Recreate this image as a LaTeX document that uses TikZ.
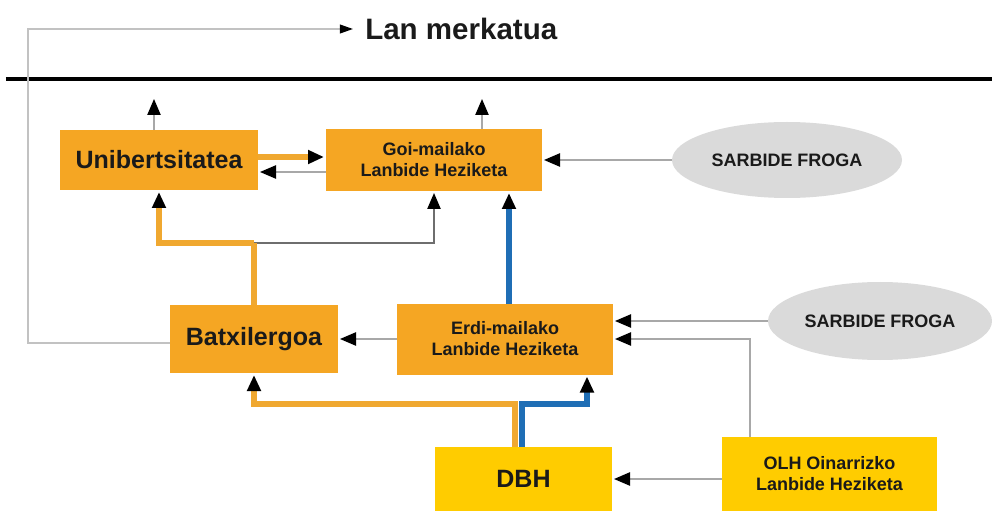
\documentclass[tikz,border=0pt]{standalone}
\usepackage{fontspec}
\setmainfont{Liberation Sans}
\usetikzlibrary{arrows.meta, positioning, shapes.geometric}

\begin{document}
\begin{tikzpicture}[
  % ---- styles ----
  stage/.style 2 args={%
    fill=#1, minimum width=#2, inner sep=0pt, outer sep=0pt,
    align=center, text=Ctxt,
  },
  bigtxt/.style={font=\bfseries\fontsize{17.8}{20}\selectfont},
  smalltxt/.style={font=\bfseries\fontsize{12.8}{15}\selectfont},
  froga/.style={ellipse, fill=Cg, inner sep=0pt, align=center, text=Ctxt, smalltxt},
  thinarrow/.style={draw=Cl, line width=1.2pt, shorten >=0.05cm,
    -{Triangle[length=0.4cm, width=0.33cm, color=black]}},
  darkarrow/.style={thinarrow, draw=Cd},
  orangeline/.style={draw=Col, line width=3.8pt},
  orangearrow/.style={orangeline, shorten >=0.05cm,
    -{Triangle[length=0.4cm, width=0.33cm, color=black]}},
  bluearrow/.style={draw=Cb, line width=3.8pt, shorten >=0.05cm,
    -{Triangle[length=0.4cm, width=0.33cm, color=black]}},
]

% ---- colour palette ----
\definecolor{Co}{HTML}{F5A623}    % orange boxes
\definecolor{Col}{HTML}{F0A830}   % orange paths
\definecolor{Cy}{HTML}{FFCC00}    % yellow boxes
\definecolor{Cg}{HTML}{DADADA}    % ellipses
\definecolor{Cb}{HTML}{1F6EB5}    % blue paths
\definecolor{Cl}{HTML}{A8A8A8}    % thin grey paths
\definecolor{Cd}{HTML}{6E6E6E}    % dark grey path
\definecolor{Ctxt}{HTML}{1A1A1A}  % text

\useasboundingbox (0,0) rectangle (24.8,-12.825);

% =========================================================
% Lan merkatua  +  separator
% =========================================================
\node[anchor=west, inner xsep=0.25cm, inner ysep=0pt, text=Ctxt,
      font=\bfseries\fontsize{21}{24}\selectfont] (lan) at (8.875,-0.725) {Lan merkatua};
\draw[line width=2.8pt] (0.15,-1.975) -- (24.8,-1.975);

% =========================================================
% upper row
% =========================================================
\node[stage={Co}{4.95cm}, minimum height=1.5cm, bigtxt] (unib) at (3.975,-4.0) {Unibertsitatea};
\node[stage={Co}{5.4cm}, minimum height=1.55cm, smalltxt, right=1.7cm of unib] (goi)
    {Goi-mailako\\Lanbide Heziketa};
\node[froga, minimum width=5.75cm, minimum height=1.9cm] (frogaA) at (19.675,-4.0) {SARBIDE FROGA};

% =========================================================
% middle row
% =========================================================
\node[stage={Co}{4.2cm}, minimum height=1.7cm, bigtxt] (batx) at (6.35,-8.475) {Batxilergoa};
\node[stage={Co}{5.4cm}, minimum height=1.775cm, smalltxt, right=1.475cm of batx] (erdi)
    {Erdi-mailako\\Lanbide Heziketa};
\node[froga, minimum width=5.6cm, minimum height=1.95cm] (frogaB) at (22.0,-8.025) {SARBIDE FROGA};

% =========================================================
% lower row
% =========================================================
\node[stage={Cy}{4.425cm}, minimum height=1.6cm, bigtxt] (dbh) at (13.0875,-11.975) {DBH};
\node[stage={Cy}{5.375cm}, minimum height=1.85cm, smalltxt] (olh) at (20.7375,-11.85)
    {OLH Oinarrizko\\Lanbide Heziketa};

% ---- free ends and junctions ----
\coordinate (uniOut) at (3.85,-2.425);
\coordinate (goiOut) at (12.05,-2.425);
\coordinate (corner) at (0.7,-0.725);
\coordinate (split)  at ([yshift=1.55cm]batx.north);
\coordinate (dsplit) at ([yshift=1.075cm]dbh.north);

% =========================================================
% connectors
% =========================================================
\draw[thinarrow] (unib.north -| uniOut) -- (uniOut);
\draw[thinarrow] (goi.north -| goiOut) -- (goiOut);

\draw[orangearrow] ([yshift=0.75mm]unib.east) -- ([yshift=0.75mm]unib.east -| goi.west);
\draw[thinarrow] ([yshift=-3mm]goi.west) -- ([yshift=-3mm]goi.west -| unib.east);

\draw[thinarrow] (frogaA.west) -- (frogaA.west -| goi.east);
\draw[thinarrow] (frogaB.west) -- (frogaB.west -| erdi.east);
\draw[thinarrow] ([xshift=-1.99cm]olh.north) |- (erdi.east);
\draw[thinarrow] (olh.west |- dbh.east) -- (dbh.east);

% Batxilergoa upwards
\draw[darkarrow] (split) -| (goi.south);
\draw[orangeline] (batx.north) -- (split);
\draw[orangearrow] (split) -| (unib.south);

% Erdi-mailako upwards and leftwards
\draw[bluearrow] ([xshift=1mm]erdi.north) -- ([xshift=1mm]erdi.north |- goi.south);
\draw[thinarrow] (erdi.west) -- (batx.east);

% Batxilergoa to the labour market
\draw[thinarrow, draw=Cl!70, -{Triangle[length=0.33cm, width=0.22cm, color=black]}]
    ([yshift=-1mm]batx.west) -| (corner) -- (lan.west);

% DBH upwards
\draw[orangearrow] ([xshift=-2.1mm]dbh.north) -- ([xshift=-2.1mm]dsplit) -| (batx.south);
\draw[bluearrow] ([xshift=-0.4mm]dbh.north) -- ([xshift=-0.4mm]dsplit) -| ([xshift=2.05cm]erdi.south);

\end{tikzpicture}
\end{document}
